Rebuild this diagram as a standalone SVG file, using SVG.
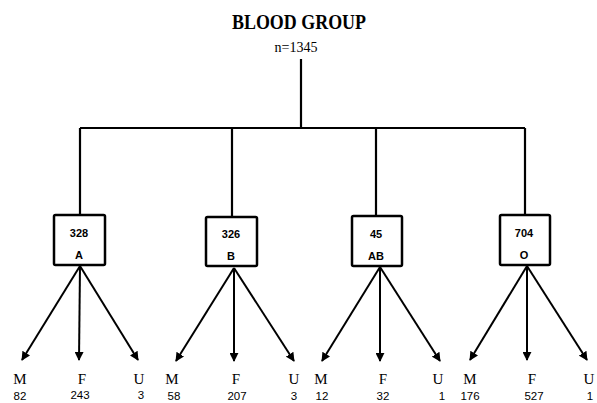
<svg xmlns="http://www.w3.org/2000/svg" width="597" height="403" viewBox="0 0 597 403">
<style>
.title{font-family:"Liberation Serif",serif;font-size:21px;font-weight:bold;text-anchor:middle}
.sub{font-family:"Liberation Serif",serif;font-size:15px;text-anchor:middle}
.box{fill:#fff;stroke:#000;stroke-width:2.5}
.bt{font-family:"Liberation Sans",sans-serif;font-size:11px;font-weight:bold;text-anchor:middle}
.ln{stroke:#000;stroke-width:2.2;fill:none}
.ar{stroke:#000;stroke-width:2;fill:none;marker-end:url(#ah)}
.lab{font-family:"Liberation Serif",serif;font-size:15px;text-anchor:middle}
.num{font-family:"Liberation Sans",sans-serif;font-size:11.5px;text-anchor:middle}
</style>
<defs>
<marker id="ah" viewBox="0 0 10 10" refX="9" refY="5" markerWidth="4.5" markerHeight="4.5" orient="auto" markerUnits="strokeWidth">
<path d="M0,0 L10,5 L0,10 z" fill="#000"/>
</marker>
</defs>
<g id="title">
<text class="title" x="299" y="29" textLength="134" lengthAdjust="spacingAndGlyphs">BLOOD GROUP</text>
<text class="sub" x="296" y="52" textLength="43" lengthAdjust="spacingAndGlyphs">n=1345</text>
</g>
<g id="connectors">
<path class="ln" d="M301,59 V128 M80,128 H525 M80,128 V215 M232,128 V217 M376,128 V216 M525,128 V215"/>
<line class="ar" x1="80" y1="266" x2="22" y2="360"/>
<line class="ar" x1="80" y1="266" x2="79" y2="360"/>
<line class="ar" x1="80" y1="266" x2="138" y2="360"/>
<line class="ar" x1="234" y1="268" x2="176" y2="361"/>
<line class="ar" x1="234" y1="268" x2="234" y2="361"/>
<line class="ar" x1="234" y1="268" x2="294" y2="361"/>
<line class="ar" x1="380" y1="267" x2="322" y2="361"/>
<line class="ar" x1="380" y1="267" x2="380" y2="361"/>
<line class="ar" x1="380" y1="267" x2="440" y2="361"/>
<line class="ar" x1="527" y1="266" x2="470" y2="360"/>
<line class="ar" x1="527" y1="266" x2="527" y2="360"/>
<line class="ar" x1="527" y1="266" x2="587" y2="360"/>
</g>
<g id="nodeA">
<rect class="box" x="54" y="215" width="51" height="50" rx="1.5"/>
<text class="bt" x="79" y="237">328</text>
<text class="bt" x="79" y="259">A</text>
</g>
<g id="nodeB">
<rect class="box" x="206" y="217" width="51" height="49" rx="1.5"/>
<text class="bt" x="231" y="238">326</text>
<text class="bt" x="231" y="260">B</text>
</g>
<g id="nodeAB">
<rect class="box" x="352" y="216" width="50" height="50" rx="1.5"/>
<text class="bt" x="376" y="238">45</text>
<text class="bt" x="376" y="260">AB</text>
</g>
<g id="nodeO">
<rect class="box" x="500" y="215" width="50" height="50" rx="1.5"/>
<text class="bt" x="524" y="237">704</text>
<text class="bt" x="524" y="259">O</text>
</g>
<g id="leaves">
<text class="lab" x="20" y="384">M</text><text class="num" x="20" y="400">82</text>
<text class="lab" x="82" y="384">F</text><text class="num" x="80" y="399">243</text>
<text class="lab" x="139" y="384">U</text><text class="num" x="141" y="399">3</text>
<text class="lab" x="172" y="384">M</text><text class="num" x="174" y="400">58</text>
<text class="lab" x="236" y="384">F</text><text class="num" x="237" y="400">207</text>
<text class="lab" x="294" y="384">U</text><text class="num" x="294" y="400">3</text>
<text class="lab" x="321" y="384">M</text><text class="num" x="322" y="400">12</text>
<text class="lab" x="383" y="384">F</text><text class="num" x="383" y="400">32</text>
<text class="lab" x="438" y="384">U</text><text class="num" x="442" y="400">1</text>
<text class="lab" x="470" y="384">M</text><text class="num" x="470" y="400">176</text>
<text class="lab" x="532" y="384">F</text><text class="num" x="534" y="400">527</text>
<text class="lab" x="589" y="384">U</text><text class="num" x="590" y="400">1</text>
</g>
</svg>
